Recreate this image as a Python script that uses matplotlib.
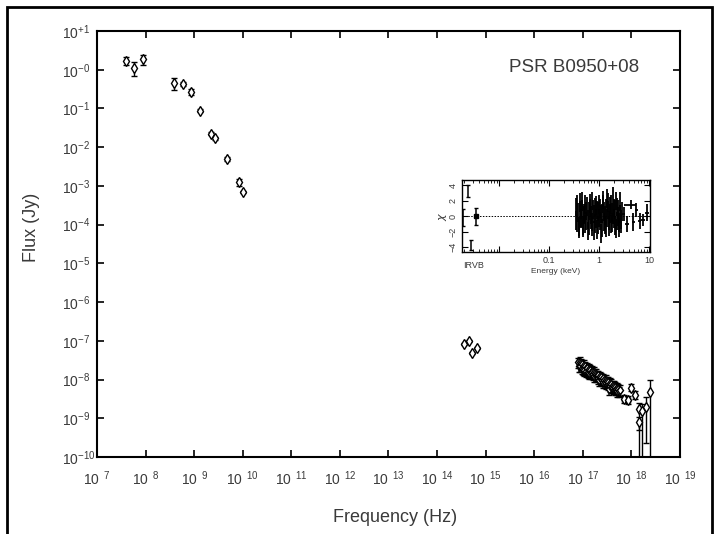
import numpy as np
import matplotlib.pyplot as plt
from matplotlib.patches import Rectangle
from matplotlib.ticker import NullLocator, LogLocator, NullFormatter

plt.rcParams['font.family'] = ['Liberation Sans', 'DejaVu Sans']

# radio points (Hz, Jy)
radio_nu = [3.9e7, 5.75e7, 8.7e7, 3.8e8, 5.9e8, 8.7e8, 1.35e9, 2.24e9, 2.63e9, 4.7e9, 8.3e9, 1.02e10]
radio_f = [1.71, 1.11, 1.89, 0.46, 0.42, 0.266, 0.087, 0.0224, 0.0170, 0.0050, 0.00123, 0.00069]
radio_lo = [1.35, 0.69, 1.35, 0.30, 0.37, 0.224, 0.079, 0.0204, 0.0155, 0.00447, 0.0010, 0.00065]
radio_hi = [2.14, 1.55, 2.45, 0.62, 0.48, 0.316, 0.095, 0.0245, 0.0186, 0.0056, 0.00148, 0.00074]

# optical / IR points
opt_nu = [3.6e14, 4.5e14, 5.2e14, 6.5e14]
opt_f = [8.3e-8, 1.0e-7, 4.9e-8, 6.6e-8]
opt_rel = [0.08, 0.08, 0.08, 0.08]

# X-ray points, dense part
xr_nu = [8.0e16, 8.3e16, 8.6e16, 8.9e16, 9.2e16, 9.5e16, 9.8e16, 1.01e17, 1.05e17, 1.08e17,
         1.12e17, 1.16e17, 1.20e17, 1.24e17, 1.28e17, 1.32e17, 1.37e17, 1.41e17, 1.46e17, 1.51e17,
         1.56e17, 1.61e17, 1.67e17, 1.72e17, 1.78e17, 1.84e17, 1.90e17, 1.97e17, 2.03e17, 2.10e17,
         2.17e17, 2.25e17, 2.32e17, 2.40e17, 2.48e17, 2.57e17, 2.65e17, 2.74e17, 2.84e17, 2.93e17,
         3.03e17, 3.14e17, 3.24e17, 3.35e17, 3.47e17, 3.58e17, 3.71e17, 3.83e17, 3.96e17, 4.10e17,
         4.24e17, 4.38e17, 4.53e17, 4.68e17, 4.84e17, 5.00e17, 5.17e17, 5.35e17, 5.53e17, 5.72e17]
xr_f = [2.8e-8, 2.3e-8, 2.9e-8, 2.2e-8, 2.6e-8, 2.0e-8, 2.5e-8,
        1.9e-8, 2.4e-8, 1.8e-8, 2.2e-8, 1.7e-8, 2.1e-8, 1.95e-8,
        1.6e-8, 1.9e-8, 1.5e-8, 1.8e-8, 1.45e-8, 1.7e-8, 1.55e-8,
        1.35e-8, 1.6e-8, 1.25e-8, 1.45e-8, 1.2e-8, 1.4e-8, 1.3e-8,
        1.1e-8, 1.3e-8, 1.0e-8, 1.2e-8, 1.05e-8, 1.15e-8, 9.5e-9,
        1.1e-8, 8.8e-9, 1.0e-8, 8.5e-9, 9.8e-9, 8.0e-9, 9.2e-9,
        7.6e-9, 8.8e-9, 5.8e-9, 8.2e-9, 7.0e-9, 7.8e-9, 6.6e-9,
        7.2e-9, 6.2e-9, 6.9e-9, 5.8e-9, 6.5e-9, 5.6e-9, 6.1e-9,
        5.2e-9, 5.8e-9, 5.0e-9, 5.4e-9]
xr_rel = 0.3
xr_nurel = 0.03

# X-ray points, sparse hard part
hx_nu = [7.2e17, 8.5e17, 9.8e17, 1.17e18, 1.41e18, 1.62e18, 1.45e18, 2.0e18, 2.4e18]
hx_nulo = [6.3e17, 7.6e17, 9.2e17, 1.10e18, 1.36e18, 1.57e18, 1.40e18, 1.95e18, 2.33e18]
hx_nuhi = [8.2e17, 9.4e17, 1.04e18, 1.24e18, 1.46e18, 1.67e18, 1.50e18, 2.05e18, 2.47e18]
hx_f = [3.2e-9, 2.95e-9, 6.2e-9, 4.0e-9, 1.7e-9, 1.55e-9, 7.8e-10, 2.0e-9, 4.9e-9]
hx_lo = [2.5e-9, 2.3e-9, 5.0e-9, 3.2e-9, 5e-11, 5e-11, 5.0e-10, 2.3e-10, 5e-11]
hx_hi = [4.0e-9, 3.7e-9, 7.6e-9, 5.0e-9, 2.5e-9, 2.4e-9, 1.1e-9, 3.6e-9, 9.8e-9]

# inset residuals (keV, chi)
res_e = [0.34, 0.36, 0.38, 0.40, 0.42, 0.44, 0.46, 0.48, 0.50, 0.53,
         0.56, 0.59, 0.62, 0.65, 0.68, 0.71, 0.74, 0.78, 0.82, 0.86,
         0.90, 0.94, 0.98, 1.03, 1.08, 1.13, 1.18, 1.24, 1.30, 1.36,
         1.42, 1.49, 1.56, 1.63, 1.71, 1.79, 1.87, 1.96, 2.05, 2.15,
         2.25, 2.36, 2.47, 2.59, 2.71, 2.84]
res_chi = [1.2, -0.8, 0.5, -1.6, 1.8, -0.3, 0.9, -1.2, 0.2, 1.5,
           -0.6, -1.9, 0.7, 1.1, -0.4, -1.3, 2.0, 0.3, -0.9, 1.4,
           -1.7, 0.6, -0.2, 1.0, -2.2, 0.4, 1.6, -0.7, 0.1, -1.4,
           2.3, 0.8, -0.5, 1.3, -1.0, 0.5, 2.6, -0.3, 0.9, -1.6,
           1.2, 0.0, -0.8, 1.9, -0.4, 0.6]
res_e2 = [0.35, 0.37, 0.39, 0.41, 0.43, 0.45, 0.47, 0.49, 0.515, 0.545,
          0.575, 0.605, 0.635, 0.665, 0.695, 0.725, 0.76, 0.80, 0.84, 0.88,
          0.92, 0.96, 1.005, 1.055, 1.105, 1.155, 1.21, 1.27, 1.33, 1.39,
          1.455, 1.525, 1.595, 1.67, 1.75, 1.83, 1.915, 2.005, 2.10, 2.20,
          2.305, 2.415, 2.53, 2.65, 2.775]
res_chi2 = [-0.5, 1.6, -1.3, 0.8, -0.2, 1.9, -1.5, 0.4, -1.0, 0.7,
            1.3, -0.4, -1.2, 1.7, 0.2, -0.7, 0.9, -1.8, 1.2, -0.3,
            0.8, -1.1, 1.5, -0.6, 0.3, -1.5, 2.1, 0.6, -1.1, 1.0,
            -0.2, 1.8, -1.3, 0.4, 1.5, -0.8, 0.2, 1.1, -1.2, 2.0,
            -0.6, 0.9, -1.4, 0.3, -0.9]
res_err = 1.2

wide_e = [3.1, 3.6, 4.3, 4.9, 5.6, 6.5, 7.6, 9.0]
wide_lo = [2.95, 3.3, 3.2, 4.5, 5.2, 6.0, 7.0, 8.3]
wide_hi = [3.3, 3.9, 5.6, 5.3, 6.0, 7.0, 8.3, 10.0]
wide_chi = [0.3, -1.0, 1.5, -0.7, 0.8, -0.6, -0.5, 0.5]
wide_err = [0.9, 1.0, 0.6, 1.2, 0.9, 1.0, 0.8, 1.1]

irvb_e = [0.00188, 0.00237, 0.00275, 0.00347]
irvb_chi = [-0.1, 3.3, -3.7, 0.0]
irvb_err = [1.1, 0.8, 0.65, 1.1]

txt = '#3a3a3a'

fig = plt.figure(figsize=(7.18, 5.34), dpi=100)
fig.patches.append(Rectangle((7/718, -0.1), 705/718, 1.087, transform=fig.transFigure,
                             fill=False, lw=2, ec='black'))

ax = fig.add_axes([97/718, 77/534, 583/718, 426/534])
ax.set_xscale('log')
ax.set_yscale('log')

kw = dict(fmt='d', ms=5.5, mfc='white', mec='black', mew=1, ecolor='black',
          elinewidth=1, capsize=2.5, capthick=1)

radio_f = np.array(radio_f)
ax.errorbar(radio_nu, radio_f, yerr=[radio_f - np.array(radio_lo), np.array(radio_hi) - radio_f], **kw)

opt_f = np.array(opt_f)
ax.errorbar(opt_nu, opt_f, yerr=opt_f * np.array(opt_rel), **kw)

xr_nu = np.array(xr_nu)
xr_f = np.array(xr_f)
ax.errorbar(xr_nu, xr_f, yerr=xr_f * xr_rel, xerr=xr_nu * xr_nurel,
            fmt='d', ms=4.5, mfc='white', mec='black', mew=1, ecolor='black',
            elinewidth=1.1, capsize=2, capthick=1)

hx_nu = np.array(hx_nu)
hx_f = np.array(hx_f)
ax.errorbar(hx_nu, hx_f, yerr=[hx_f - np.array(hx_lo), np.array(hx_hi) - hx_f],
            xerr=[hx_nu - np.array(hx_nulo), np.array(hx_nuhi) - hx_nu], **kw)

ax.set_xlim(1e7, 1e19)
ax.set_ylim(1e-10, 1e1)

xt = [10.0**k for k in range(7, 20)]
ax.set_xticks(xt)
ax.set_xticklabels([r'$\mathregular{10\ ^{%d}}$' % k for k in range(7, 20)])
yt = [10.0**k for k in range(-10, 2)]
ylab = []
for k in range(-10, 2):
    if k == 1:
        ylab.append(r'$\mathregular{10^{+1}}$')
    elif k == 0:
        ylab.append(r'$\mathregular{10^{-0}}$')
    else:
        ylab.append(r'$\mathregular{10^{%d}}$' % k)
ax.set_yticks(yt)
ax.set_yticklabels(ylab)
ax.xaxis.set_minor_locator(NullLocator())
ax.yaxis.set_minor_locator(NullLocator())
ax.tick_params(which='major', direction='in', length=5, width=1.2, top=True, right=True,
               labelsize=10, labelcolor=txt)
ax.tick_params(axis='x', pad=9)
ax.tick_params(axis='y', pad=25)
for lbl in ax.get_yticklabels():
    lbl.set_horizontalalignment('left')
for s in ax.spines.values():
    s.set_linewidth(1.5)

ax.set_xlabel('Frequency (Hz)', fontsize=13, color=txt)
ax.xaxis.set_label_coords(0.511, -0.122)
ax.set_ylabel('Flux (Jy)', fontsize=13, color=txt)
ax.yaxis.set_label_coords(-0.097, 0.54)
ax.text(0.93, 0.915, 'PSR B0950+08', transform=ax.transAxes, ha='right', va='center',
        fontsize=13.5, color=txt)

# inset with residuals
axi = fig.add_axes([462/718, 282/534, 188/718, 72/534])
axi.set_xscale('log')
ikw = dict(fmt='none', ecolor='black', elinewidth=1.3)
axi.errorbar(res_e, res_chi, yerr=res_err, **ikw)
axi.errorbar(res_e2, res_chi2, yerr=res_err, **ikw)
axi.errorbar(wide_e, wide_chi, yerr=wide_err,
             xerr=[np.array(wide_e) - np.array(wide_lo), np.array(wide_hi) - np.array(wide_e)], **ikw)
axi.errorbar(irvb_e, irvb_chi, yerr=irvb_err, fmt='none', ecolor='black', elinewidth=1.1,
             capsize=1.5)
axi.plot(irvb_e[3], irvb_chi[3], 's', ms=3, color='black')
axi.axhline(0, color='black', ls=(0, (1.5, 1.5)), lw=0.7, zorder=0)
axi.set_xlim(0.0018, 10.5)
axi.set_ylim(-4.6, 4.7)
axi.set_xticks([0.01, 0.1, 1, 10])
axi.set_xticklabels(['', '0.1', '1', '10'])
axi.xaxis.set_minor_locator(LogLocator(base=10, subs=np.arange(2, 10)))
axi.xaxis.set_minor_formatter(NullFormatter())
axi.set_yticks([-4, -2, 0, 2, 4])
axi.tick_params(which='major', direction='in', length=4, width=0.8, top=True, right=True,
                labelsize=6.5, labelcolor=txt, pad=3)
axi.tick_params(which='minor', direction='in', length=2, width=0.6, top=True, right=True)
for lbl in axi.get_yticklabels():
    lbl.set_rotation(90)
    lbl.set_verticalalignment('center')
for s in axi.spines.values():
    s.set_linewidth(1.0)
axi.set_xlabel('Energy (keV)', fontsize=6, color=txt, labelpad=2)
axi.set_ylabel(r'$\chi$', fontsize=8, color=txt, labelpad=0)
axi.text(0.0019, -5.7, 'IRVB', fontsize=6.5, color=txt, ha='left', va='top')

fig.savefig('out.png', dpi=100)
